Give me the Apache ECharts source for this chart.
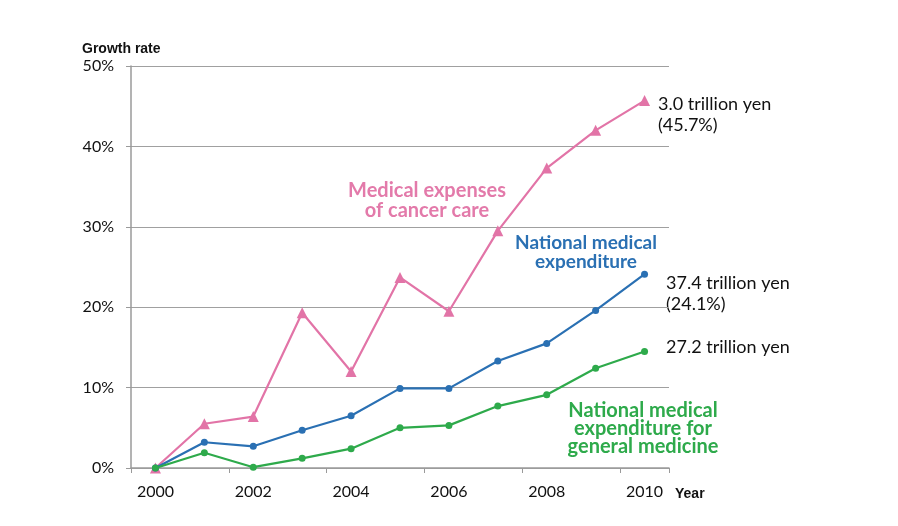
<!DOCTYPE html>
<html><head><meta charset="utf-8">
<script src="https://cdn.jsdelivr.net/npm/echarts@6/dist/echarts.min.js"></script>
<style>html,body{margin:0;padding:0;background:#fff}#c{width:898px;height:526px}</style>
</head><body><div id="c"></div>
<script>
const years = ['2000','2001','2002','2003','2004','2005','2006','2007','2008','2009','2010'];
const cancerCare = [0, 5.5, 6.4, 19.3, 12.0, 23.7, 19.5, 29.5, 37.3, 42.0, 45.7];
const nationalMedical = [0, 3.2, 2.7, 4.7, 6.5, 9.9, 9.9, 13.3, 15.5, 19.6, 24.1];
const generalMedicine = [0, 1.9, 0.1, 1.2, 2.4, 5.0, 5.3, 7.7, 9.1, 12.4, 14.5];
const yTicks = [0, 10, 20, 30, 40, 50];

const FONT = 'Lato, "Open Sans", sans-serif';
const ARIAL = '"Liberation Sans", Arial, sans-serif';
const PINK = '#e274a7', BLUE = '#2a70b3', GREEN = '#2eaa4b';
const chart = echarts.init(document.getElementById('c'));
function txt(x, y, text, color, font, lh, align) {
  return { type: 'text', x: x, y: y, style: { text: text, fill: color, font: font,
    align: align || 'left', verticalAlign: 'top', lineHeight: lh } };
}
chart.setOption({
  animation: false,
  grid: { left: 131, right: 229, top: 66, bottom: 58 },
  xAxis: {
    type: 'category', data: years, boundaryGap: true,
    axisLine: { lineStyle: { color: '#9a9a9a', width: 1.5 } },
    axisTick: { show: true, length: 5, lineStyle: { color: '#9a9a9a' } },
    axisLabel: { interval: 1, color: '#111', fontSize: 16, fontFamily: FONT, margin: 16 }
  },
  yAxis: {
    type: 'value', min: 0, max: 50, interval: 10,
    axisLine: { show: true, lineStyle: { color: '#9a9a9a', width: 1.5 } },
    axisTick: { show: true, length: 5, lineStyle: { color: '#9a9a9a' } },
    splitLine: { lineStyle: { color: '#a0a0a0', width: 1.2 } },
    axisLabel: { color: '#111', fontSize: 16, fontFamily: FONT, margin: 17,
      formatter: v => yTicks.includes(v) ? v + '%' : '' }
  },
  series: [
    { type: 'line', data: cancerCare, symbol: 'triangle', symbolSize: 11,
      lineStyle: { color: PINK, width: 2.2 }, itemStyle: { color: PINK } },
    { type: 'line', data: nationalMedical, symbol: 'circle', symbolSize: 7,
      lineStyle: { color: BLUE, width: 2.2 }, itemStyle: { color: BLUE } },
    { type: 'line', data: generalMedicine, symbol: 'circle', symbolSize: 7,
      lineStyle: { color: GREEN, width: 2.2 }, itemStyle: { color: GREEN } }
  ],
  graphic: [
    txt(82, 42, 'Growth rate', '#111', 'bold 14px ' + ARIAL, 14),
    txt(675, 487, 'Year', '#111', 'bold 14px ' + ARIAL, 14),
    txt(427, 181, 'Medical expenses\nof cancer care', '#e37aaa', 'bold 20px ' + FONT, 20, 'center'),
    txt(586, 234, 'National medical\nexpenditure', BLUE, 'bold 19px ' + FONT, 18.5, 'center'),
    txt(643, 402, 'National medical\nexpenditure for\ngeneral medicine', GREEN, 'bold 20px ' + FONT, 18, 'center'),
    txt(658, 94, '3.0 trillion yen\n(45.7%)', '#111', '18px ' + FONT, 21),
    txt(666, 273, '37.4 trillion yen\n(24.1%)', '#111', '18px ' + FONT, 21),
    txt(666, 337, '27.2 trillion yen', '#111', '18px ' + FONT, 21)
  ]
});
</script></body></html>
